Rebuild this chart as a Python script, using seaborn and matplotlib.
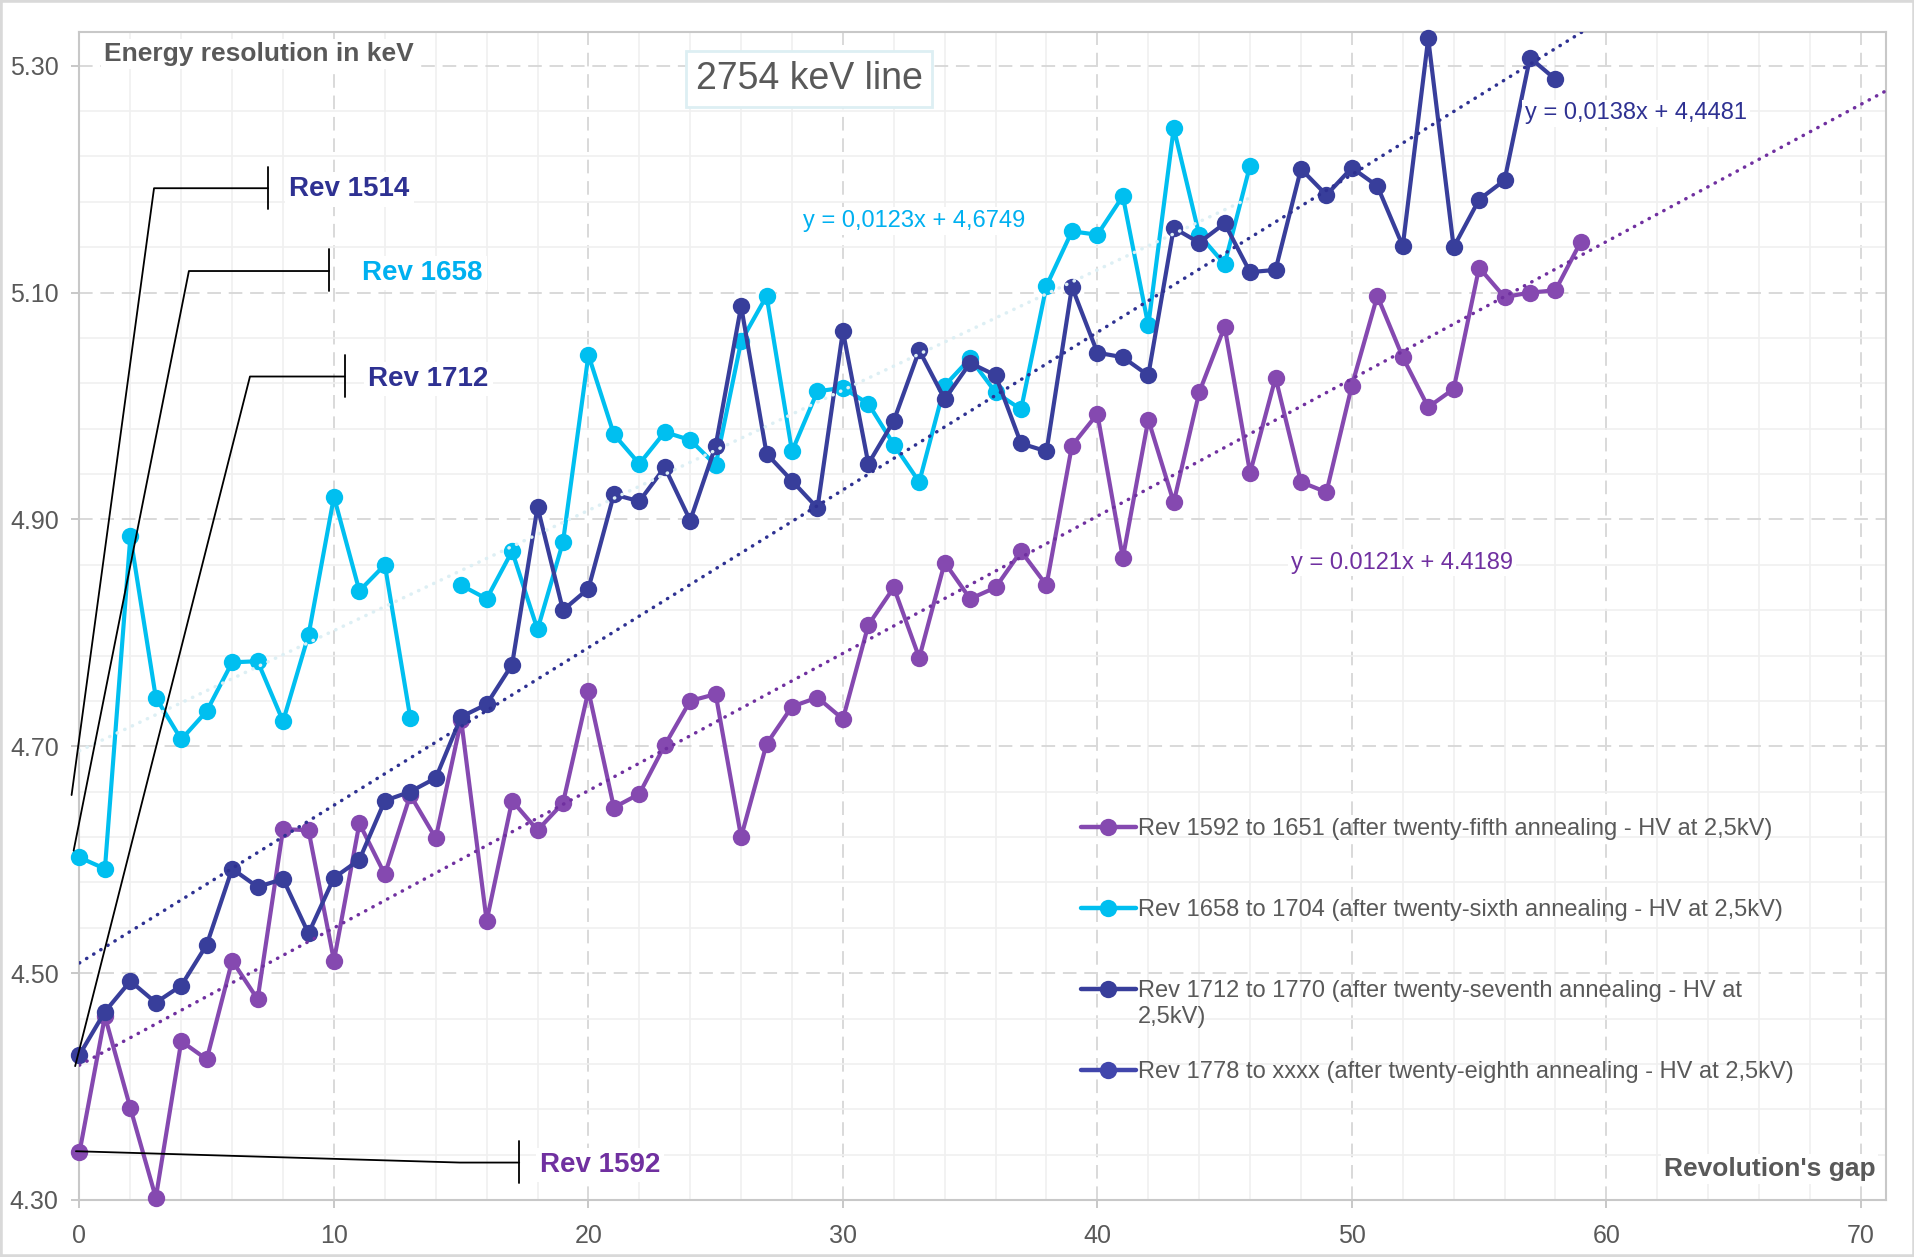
import numpy as np
import pandas as pd
import matplotlib
matplotlib.use("Agg")
import matplotlib.pyplot as plt
import seaborn as sns
from matplotlib.lines import Line2D
from matplotlib.patches import Rectangle

# data (revolution gap vs energy resolution in keV)
gap_1592 = list(range(0, 60))
res_1592 = [4.342, 4.462, 4.381, 4.302, 4.440, 4.424, 4.511, 4.477, 4.627, 4.626,
            4.511, 4.632, 4.587, 4.657, 4.619, 4.723, 4.546, 4.652, 4.626, 4.650,
            4.749, 4.646, 4.658, 4.701, 4.740, 4.746, 4.620, 4.702, 4.735, 4.743,
            4.724, 4.807, 4.840, 4.778, 4.862, 4.830, 4.840, 4.872, 4.842, 4.965,
            4.993, 4.866, 4.988, 4.915, 5.012, 5.070, 4.941, 5.025, 4.933, 4.924,
            5.018, 5.097, 5.043, 4.999, 5.015, 5.122, 5.096, 5.100, 5.102, 5.145]

gap_1658 = list(range(0, 47))
res_1658 = [4.602, 4.592, 4.885, 4.743, 4.706, 4.731, 4.774, 4.775, 4.722, 4.798,
            4.920, 4.837, 4.860, 4.725, np.nan, 4.842, 4.830, 4.872, 4.803, 4.880,
            5.045, 4.975, 4.949, 4.977, 4.970, 4.948, 5.057, 5.097, 4.960, 5.013,
            5.016, 5.002, 4.966, 4.933, 5.018, 5.042, 5.012, 4.997, 5.106, 5.154,
            5.151, 5.185, 5.071, 5.245, 5.151, 5.125, 5.212]

gap_1712 = list(range(0, 59))
res_1712 = [4.428, 4.466, 4.493, 4.474, 4.489, 4.525, 4.592, 4.576, 4.583, 4.535,
            4.584, 4.600, 4.652, 4.660, 4.672, 4.726, 4.737, 4.772, 4.911, 4.820,
            4.839, 4.922, 4.916, 4.946, 4.899, 4.965, 5.088, 4.958, 4.934, 4.910,
            5.066, 4.949, 4.987, 5.049, 5.006, 5.038, 5.027, 4.967, 4.960, 5.105,
            5.047, 5.043, 5.027, 5.157, 5.144, 5.161, 5.118, 5.120, 5.209, 5.186,
            5.210, 5.194, 5.141, 5.324, 5.140, 5.182, 5.199, 5.307, 5.288]

gap_1778 = []
res_1778 = []

series_names = ["Rev 1592 to 1651 (after twenty-fifth annealing - HV at 2,5kV)",
                "Rev 1658 to 1704 (after twenty-sixth annealing - HV at 2,5kV)",
                "Rev 1712 to 1770 (after twenty-seventh annealing - HV at",
                "Rev 1778 to xxxx (after twenty-eighth annealing - HV at 2,5kV)"]
legend_wrap = "2,5kV)"  # second line of the third entry
series_colors = ["#8549B0", "#00BFF0", "#383E9B", "#4146AC"]

# trendlines as drawn (slope, intercept, x range)
trend_slope = [0.0121, 0.0106, 0.0139]
trend_icpt = [4.4189, 4.696, 4.509]
trend_xmax = [71, 46, 71]
trend_colors = ["#7030A0", "#DDEFF4", "#2E3192"]
trend_labels = ["y = 0.0121x + 4.4189", "y = 0,0123x + 4,6749", "y = 0,0138x + 4,4481"]
trend_label_pos = [(47.6, 4.862), (28.45, 5.163), (56.8, 5.258)]
trend_label_colors = ["#7030A0", "#00B0F0", "#2E3192"]

# callouts: (text, colour, polyline points, tick y range, text pos)
callouts = [
    ("Rev 1514", "#2E3192", [(-0.31, 4.657), (2.93, 5.192), (7.41, 5.192)], (5.211, 5.174), (8.25, 5.191)),
    ("Rev 1658", "#00B0F0", [(-0.23, 4.608), (4.30, 5.119), (9.81, 5.119)], (5.138, 5.101), (11.12, 5.117)),
    ("Rev 1712", "#2E3192", [(-0.17, 4.418), (6.70, 5.026), (10.42, 5.026)], (5.045, 5.008), (11.35, 5.024)),
    ("Rev 1592", "#7030A0", [(-0.14, 4.343), (14.95, 4.333), (17.28, 4.333)], (4.352, 4.315), (18.09, 4.331)),
]

frames = []
for name, g, r in zip(series_names, [gap_1592, gap_1658, gap_1712, gap_1778],
                      [res_1592, res_1658, res_1712, res_1778]):
    d = pd.DataFrame({"gap": g, "res": r}, dtype=float)
    d["segment"] = d["res"].isna().cumsum()
    d = d.dropna()
    d["series"] = name
    frames.append(d)
df = pd.concat(frames, ignore_index=True)

sns.set_theme(style="white")
plt.rcParams["font.family"] = ["Liberation Sans", "DejaVu Sans"]

fig = plt.figure(figsize=(19.15, 12.57), dpi=100)
ax = fig.add_axes([0.0415, 0.04535, 0.9435, 0.92944])
fig.patches.append(Rectangle((0, 0), 1, 1, transform=fig.transFigure, fill=False,
                             edgecolor="#D9D9D9", linewidth=4))

grey = "#595959"
ax.set_xlim(0, 71)
ax.set_ylim(4.30, 5.330)
ax.set_xticks(np.arange(0, 71, 10))
ax.set_yticks(np.arange(4.30, 5.31, 0.2))
ax.set_xticks(np.arange(0, 71, 2), minor=True)
ax.set_yticks(np.arange(4.30, 5.33, 0.04), minor=True)
ax.yaxis.set_major_formatter(matplotlib.ticker.FormatStrFormatter("%.2f"))
ax.grid(which="minor", color="#F0F0F0", linewidth=1.2, linestyle="-")
ax.grid(which="major", color="#D9D9D9", linewidth=1.4, linestyle=(0, (7, 4)))
ax.set_axisbelow(True)
ax.tick_params(which="major", labelsize=18, labelcolor=grey, color="#BFBFBF",
               length=6, width=1.2)
ax.tick_params(axis="x", which="major", pad=11, bottom=True)
ax.tick_params(axis="y", which="major", pad=9, left=True)
ax.tick_params(which="minor", length=0)
for s in ax.spines.values():
    s.set_color("#C8C8C8")
    s.set_linewidth(1.5)

sns.lineplot(data=df, x="gap", y="res", hue="series", units="segment", estimator=None,
             hue_order=series_names, palette=series_colors, marker="o", markersize=12.5,
             markeredgewidth=0, linewidth=3, legend=False, sort=False, ax=ax,
             clip_on=False, zorder=3)

for k in range(3):
    xs = np.array([0, trend_xmax[k]])
    ax.plot(xs, trend_slope[k] * xs + trend_icpt[k], color=trend_colors[k], linewidth=2.5,
            linestyle=(0, (0.1, 2.3)), dash_capstyle="round", zorder=4)
    ax.text(trend_label_pos[k][0], trend_label_pos[k][1], trend_labels[k], fontsize=17,
            color=trend_label_colors[k], va="center", ha="left", zorder=6,
            bbox=dict(facecolor="white", edgecolor="none", pad=2))

for label, col, pts, ty, tpos in callouts:
    px, py = zip(*pts)
    ax.plot(px, py, color="black", linewidth=1.3, clip_on=False, zorder=5)
    ax.plot([px[-1], px[-1]], ty, color="black", linewidth=1.3, zorder=5)
    ax.text(tpos[0], tpos[1], label, fontsize=20, fontweight="bold", color=col,
            va="center", ha="left", zorder=6,
            bbox=dict(facecolor="white", edgecolor="none", pad=3))

ax.text(0.97, 5.310, "Energy resolution in keV", fontsize=19, fontweight="bold",
        color=grey, va="center", ha="left", zorder=6,
        bbox=dict(facecolor="white", edgecolor="none", pad=2))
ax.text(70.57, 4.327, "Revolution's gap", fontsize=19, fontweight="bold",
        color=grey, va="center", ha="right", zorder=6,
        bbox=dict(facecolor="white", edgecolor="none", pad=2))
ax.text(28.67, 5.2885, "2754 keV line", fontsize=27, color=grey, va="center",
        ha="center", zorder=6,
        bbox=dict(facecolor="white", edgecolor="#DDEFF3", linewidth=2, pad=7))

handles = [Line2D([], [], color=c, marker="o", markersize=12.5, markeredgewidth=0,
                  linewidth=3.2) for c in series_colors]
ax.legend(handles, series_names, loc="upper left",
          bbox_to_anchor=(0.5545, 0.3268), frameon=False, fontsize=17,
          handlelength=2.3, handletextpad=0.1, labelspacing=2.5,
          borderpad=0, borderaxespad=0, labelcolor=grey)
ax.text(0.586, 0.1564, legend_wrap, transform=ax.transAxes, fontsize=17,
        color=grey, va="center", ha="left")

ax.set_xlabel("")
ax.set_ylabel("")
fig.savefig("out.png", dpi=100)
